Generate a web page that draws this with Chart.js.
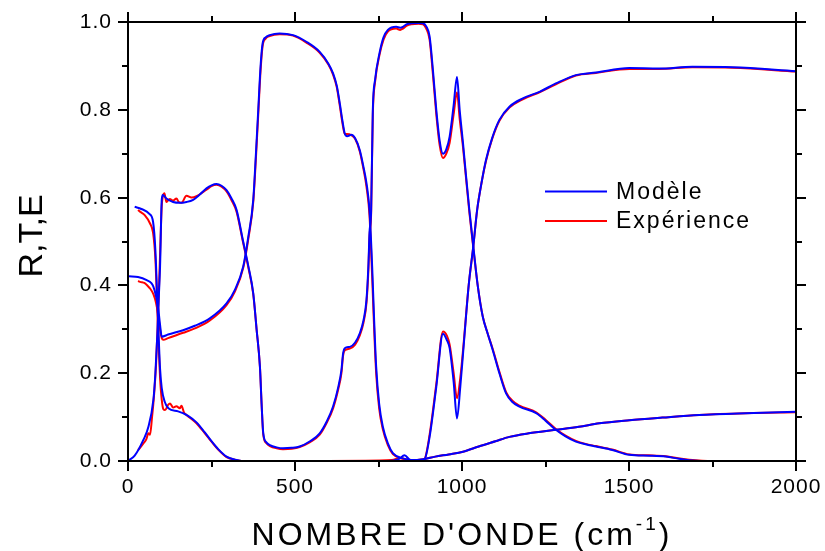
<!DOCTYPE html>
<html>
<head>
<meta charset="utf-8">
<script src="https://cdn.jsdelivr.net/npm/chart.js@4"></script>
<style>
  html, body { margin: 0; padding: 0; background: #fff; }
</style>
</head>
<body>
<canvas id="chart" width="825" height="551"></canvas>
<script>
// Transmission (model / experiment)
const tModelX = [20,40,64,75,82,88,92,96,101,110,121,150,180,205,230,250,270,295,320,340,400,600,780,810,828,845,870,888,903,923,943,955,963,975,985,995,1004,1020,1034,1045,1060,1072,1090,1112,1142,1182,1232,1281,1341,1401,1501,1590,1690,1810,2000];
const tModel = [.579,.574,.563,.545,.48,.36,.28,.21,.166,.135,.120,.113,.103,.088,.065,.045,.027,.010,.003,0,0,0,0,.004,.013,.002,0,.004,.055,.169,.29,.275,.257,.18,.097,.17,.253,.40,.49,.57,.64,.686,.735,.777,.807,.826,.841,.860,.879,.885,.895,.894,.898,.897,.888];
const tExpX = [30,36,50,66,75,82,88,92,96,101,106,111,120,126,135,145,155,160,168,175,205,230,250,270,295,320,340,400,600,790,815,830,850,870,888,903,923,943,955,963,975,985,995,1004,1020,1034,1045,1060,1072,1090,1112,1142,1182,1232,1281,1341,1401,1501,1590,1690,1810,2000];
const tExp = [.572,.568,.560,.541,.52,.46,.34,.26,.19,.14,.118,.116,.128,.131,.122,.125,.12,.126,.11,.105,.086,.063,.044,.026,.009,.003,0,0,0,.002,.007,.004,.001,0,.005,.06,.175,.295,.285,.265,.20,.143,.19,.26,.40,.49,.57,.64,.684,.733,.775,.805,.824,.840,.858,.878,.884,.893,.893,.897,.896,.887];

// Reflexion
const rModelX = [3,30,56,70,76,84,91,96,101,120,165,200,245,295,320,345,360,375,383,390,397,403,412,424,454,494,534,574,600,614,625,634,642,649,656,669,680,694,705,714,723,731,737,743,752,763,778,793,823,850,883,920,960,1003,1050,1100,1142,1200,1281,1350,1411,1501,1600,1710,1850,2000];
const rModel = [.421,.419,.412,.405,.397,.375,.344,.31,.283,.288,.298,.308,.325,.359,.39,.443,.51,.595,.70,.80,.90,.951,.965,.970,.974,.970,.955,.932,.905,.883,.855,.815,.775,.746,.740,.743,.735,.708,.67,.633,.572,.443,.32,.215,.13,.078,.04,.018,.006,.002,.004,.010,.015,.021,.033,.045,.055,.063,.071,.078,.086,.093,.099,.105,.109,.112];
const rExpX = [30,36,50,60,66,76,84,91,96,101,106,120,165,200,245,295,320,345,360,375,383,390,397,403,412,424,454,494,534,574,600,614,625,634,642,649,656,669,680,694,705,714,723,731,737,743,752,763,778,793,823,850,883,920,960,1003,1050,1100,1142,1200,1281,1350,1411,1501,1600,1710,1850,2000];
const rExp = [.410,.408,.405,.398,.393,.38,.36,.33,.30,.28,.276,.28,.292,.302,.32,.355,.386,.44,.505,.59,.69,.79,.89,.945,.962,.968,.972,.969,.953,.93,.903,.88,.852,.81,.77,.745,.745,.742,.734,.705,.665,.625,.56,.42,.30,.20,.12,.072,.036,.016,.005,.002,.004,.010,.015,.021,.033,.045,.055,.063,.071,.078,.086,.093,.099,.105,.109,.111];

// Emission
const eModelX = [3,20,46,60,76,82,88,92,96,101,104,115,135,155,175,195,215,235,250,265,280,295,310,325,344,360,375,385,395,400,405,415,425,445,464,490,514,545,574,595,614,630,639,644,649,664,680,694,705,714,720,723,728,733,740,753,765,778,803,815,823,835,848,870,883,893,903,913,923,933,943,953,963,975,985,993,1003,1012,1022,1034,1047,1062,1077,1092,1112,1132,1150,1172,1222,1250,1281,1310,1341,1370,1401,1450,1501,1560,1610,1650,1680,1750,2000];
const eModel = [.002,.012,.048,.075,.139,.2,.29,.37,.443,.595,.606,.598,.590,.588,.59,.595,.607,.621,.628,.631,.627,.617,.598,.572,.503,.445,.382,.30,.215,.13,.063,.042,.036,.031,.029,.030,.033,.045,.063,.09,.124,.17,.207,.245,.257,.260,.27,.291,.32,.367,.45,.519,.572,.80,.87,.929,.965,.982,.989,.987,.989,.995,.997,.998,.997,.99,.967,.89,.80,.73,.70,.71,.739,.81,.875,.80,.724,.65,.572,.488,.40,.329,.29,.253,.20,.154,.135,.124,.109,.092,.071,.056,.044,.038,.033,.025,.014,.012,.010,.005,.002,0,0];
const eExpX = [30,36,46,55,61,66,72,78,84,90,96,101,105,109,115,125,135,145,152,160,175,190,205,235,250,265,280,295,310,325,344,360,375,385,395,400,405,415,425,445,464,490,514,545,574,595,614,630,639,644,649,664,680,694,705,714,720,723,728,733,740,753,765,778,803,815,823,835,848,870,883,893,903,913,923,933,943,953,963,975,985,993,1003,1012,1022,1034,1047,1062,1077,1092,1112,1132,1150,1172,1222,1250,1281,1310,1341,1370,1401,1450,1501,1560,1610,1650,1680,1750,2000];
const eExp = [.025,.03,.04,.05,.063,.06,.10,.15,.22,.33,.47,.58,.605,.61,.59,.597,.593,.598,.59,.588,.604,.60,.603,.618,.626,.629,.625,.614,.594,.568,.50,.442,.38,.30,.215,.13,.06,.04,.034,.029,.027,.028,.032,.043,.06,.087,.12,.165,.20,.24,.252,.256,.265,.286,.315,.36,.44,.51,.565,.79,.865,.925,.96,.978,.985,.982,.985,.992,.995,.996,.995,.985,.96,.88,.79,.72,.69,.70,.725,.79,.84,.78,.715,.645,.567,.485,.40,.33,.29,.255,.203,.157,.138,.126,.111,.094,.073,.058,.046,.039,.034,.026,.015,.013,.011,.006,.003,0,0];

const legendLabels = ['Modèle', 'Expérience'];
const xTitle = "NOMBRE D'ONDE (cm";
const xTitleSup = '-1';
const yTitle = 'R,T,E';

const BLUE = '#0000ff';
const RED = '#ff0000';
const FONT = '"Liberation Sans", Arial, sans-serif';

function pts(xs, ys) {
  return xs.map((x, i) => ({ x: x, y: ys[i] }));
}

function line(ctx, x1, y1, x2, y2) {
  ctx.beginPath();
  ctx.moveTo(x1, y1);
  ctx.lineTo(x2, y2);
  ctx.stroke();
}

// frame, outward ticks, labels, titles and legend
const decor = {
  id: 'decor',
  afterDraw(chart) {
    const ctx = chart.ctx;
    const a = chart.chartArea;
    const xs = chart.scales.x, ys = chart.scales.y;
    ctx.save();
    ctx.strokeStyle = '#000';
    ctx.lineWidth = 2;
    ctx.strokeRect(a.left, a.top, a.right - a.left, a.bottom - a.top);

    ctx.fillStyle = '#000';
    ctx.font = '21px ' + FONT;
    ctx.letterSpacing = '1px';

    xs.ticks.forEach(t => {
      const px = Math.round(xs.getPixelForValue(t.value));
      const major = Math.round(t.value) % 500 === 0;
      const len = major ? 10 : 6;
      line(ctx, px, a.bottom, px, a.bottom + len);
      line(ctx, px, a.top, px, a.top - len);
      if (major) {
        ctx.textAlign = 'center';
        ctx.textBaseline = 'top';
        ctx.fillText(String(Math.round(t.value)), px, a.bottom + 16);
      }
    });

    ys.ticks.forEach((t, i) => {
      const py = Math.round(ys.getPixelForValue(t.value));
      const major = i % 2 === 0;
      const len = major ? 10 : 6;
      line(ctx, a.left, py, a.left - len, py);
      line(ctx, a.right, py, a.right + len, py);
      if (major) {
        ctx.textAlign = 'right';
        ctx.textBaseline = 'middle';
        ctx.fillText(t.value.toFixed(1), a.left - 16, py);
      }
    });

    // x title with superscript
    ctx.letterSpacing = '3px';
    ctx.textAlign = 'left';
    ctx.textBaseline = 'alphabetic';
    ctx.font = '32px ' + FONT;
    const w1 = ctx.measureText(xTitle).width;
    const w3 = ctx.measureText(')').width;
    ctx.font = '19px ' + FONT;
    const w2 = ctx.measureText(xTitleSup).width;
    let sx = (a.left + a.right) / 2 - (w1 + w2 + w3) / 2;
    const base = 545;
    ctx.font = '32px ' + FONT;
    ctx.fillText(xTitle, sx, base);
    ctx.font = '19px ' + FONT;
    ctx.fillText(xTitleSup, sx + w1, base - 15);
    ctx.font = '32px ' + FONT;
    ctx.fillText(')', sx + w1 + w2, base);

    // y title
    ctx.save();
    ctx.letterSpacing = '0px';
    ctx.translate(42, 236);
    ctx.rotate(-Math.PI / 2);
    ctx.textAlign = 'center';
    ctx.font = '34px ' + FONT;
    ctx.fillText(yTitle, 0, 0);
    ctx.restore();

    // legend
    ctx.letterSpacing = '2px';
    ctx.font = '23px ' + FONT;
    ctx.textAlign = 'left';
    ctx.textBaseline = 'middle';
    [[BLUE, 191.5], [RED, 221]].forEach((it, i) => {
      ctx.strokeStyle = it[0];
      ctx.lineWidth = 2;
      line(ctx, 545, it[1], 607, it[1]);
      ctx.fillText(legendLabels[i], 616, it[1] + 1);
    });
    ctx.restore();
  }
};

function ds(label, xs, ys, color) {
  return {
    label: label,
    data: pts(xs, ys),
    borderColor: color,
    borderWidth: 2,
    pointRadius: 0,
    fill: false,
    cubicInterpolationMode: 'monotone'
  };
}

const ctx = document.getElementById('chart').getContext('2d');
const chart = new Chart(ctx, {
  type: 'line',
  data: {
    datasets: [
      ds('Modèle T', tModelX, tModel, BLUE),
      ds('Modèle R', rModelX, rModel, BLUE),
      ds('Modèle E', eModelX, eModel, BLUE),
      ds('Expérience T', tExpX, tExp, RED),
      ds('Expérience R', rExpX, rExp, RED),
      ds('Expérience E', eExpX, eExp, RED)
    ]
  },
  options: {
    responsive: false,
    animation: false,
    layout: { padding: { top: 22, right: 29, left: 0, bottom: 0 } },
    plugins: { legend: { display: false }, tooltip: { enabled: false } },
    scales: {
      x: {
        type: 'linear', min: 0, max: 2000,
        ticks: { display: false, stepSize: 250 },
        grid: { display: false }, border: { display: false },
        afterFit: s => { s.height = 90; }
      },
      y: {
        min: 0, max: 1,
        ticks: { display: false, stepSize: 0.1 },
        grid: { display: false }, border: { display: false },
        afterFit: s => { s.width = 128; }
      }
    }
  },
  plugins: [decor]
});
</script>
</body>
</html>
